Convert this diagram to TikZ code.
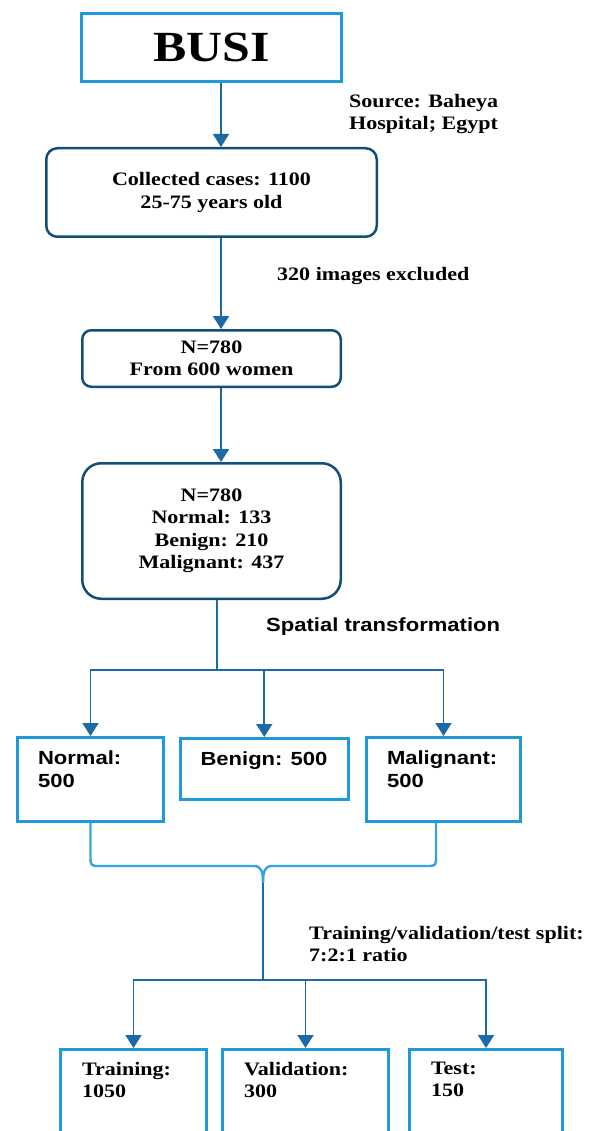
\documentclass[tikz,border=0pt]{standalone}
\usepackage{fontspec}
\setmainfont{Liberation Serif}[FakeStretch=1.16]
\setsansfont{Liberation Sans}[FakeStretch=1.16]
\usetikzlibrary{arrows.meta}
\definecolor{busiblue}{HTML}{1E9AD6}
\definecolor{stageblue}{HTML}{124E78}
\definecolor{arrowblue}{HTML}{1B6AA5}
\definecolor{braceblue}{HTML}{38A3DC}
\newcommand{\toptxt}[3]{\parbox[t][#2][t]{#1}{#3}}
\tikzset{
  txt/.style={font=\bfseries\fontsize{19}{22.5}\selectfont, text=black},
  stage/.style={txt, draw=stageblue, line width=2.5pt, align=center, inner sep=0pt},
  catbox/.style={txt, font=\sffamily\bfseries\fontsize{19}{22.5}\selectfont,
    draw=busiblue, line width=3pt, inner xsep=20.5pt, inner ysep=13.5pt},
  splitbox/.style={txt, draw=busiblue, line width=3pt, inner xsep=21.5pt, inner ysep=12.5pt},
  lbl/.style={txt, inner sep=0pt, align=left},
  link/.style={draw=arrowblue, line width=1.9pt},
  flow/.style={link, -{Triangle[length=13pt, width=16pt]}},
  brace/.style={draw=braceblue, line width=2.4pt, line join=round},
}

\begin{document}
\begin{tikzpicture}[x=1pt, y=-1pt]
\useasboundingbox (0,0) rectangle (589,1131);
\clip (0,0) rectangle (589,1131);

% Dataset
\node[draw=busiblue, line width=3pt, minimum width=260pt, minimum height=68pt,
  font=\bfseries\fontsize{43}{43}\selectfont] (busi) at (211.5,47.5) {BUSI};
\node[lbl, anchor=north west] (source) at (349,94) {Source: Baheya\\Hospital; Egypt};

% Selection stages
\node[stage, rounded corners=11pt, minimum width=330.5pt, minimum height=88.5pt] (cases)
  at (211.5,192.5) {Collected cases: 1100\\25-75 years old};
\node[lbl, anchor=base west] (excl) at (277,281) {320 images excluded};
\node[stage, rounded corners=9pt, minimum width=258.5pt, minimum height=56.5pt] (women)
  at (211.5,358.5) {N=780\\From 600 women};
\node[stage, rounded corners=19pt, minimum width=258.5pt, minimum height=135.5pt] (classes)
  at (211.5,531) {N=780\\Normal: 133\\Benign: 210\\Malignant: 437};
\node[lbl, font=\sffamily\bfseries\fontsize{19}{22.5}\selectfont, anchor=base west] (spatial)
  at (266,631) {Spatial transformation};

% Augmented classes
\node[catbox] (normal) at (90.5,779.5) {\toptxt{105pt}{57pt}{Normal:\\500}};
\node[catbox] (benign) at (264.25,769) {\toptxt{127.5pt}{34pt}{Benign: 500}};
\node[catbox] (malignant) at (443.5,779.5) {\toptxt{113pt}{57pt}{Malignant:\\500}};

% Split
\node[lbl, anchor=north west] (ratio) at (309,926) {Training/validation/test split:\\7:2:1 ratio};
\node[splitbox] (train) at (133.5,1104.5) {\toptxt{103pt}{85pt}{Training:\\1050}};
\node[splitbox] (valid) at (305.5,1104.5) {\toptxt{123pt}{85pt}{Validation:\\300}};
\node[splitbox] (test) at (486,1104.5) {\toptxt{110pt}{85pt}{Test:\\150}};

% Edges
\draw[flow] ([xshift=9.5pt]busi.south) -- ([xshift=9.5pt]cases.north);
\draw[flow] ([xshift=9.5pt]cases.south) -- ([xshift=9.5pt]women.north);
\draw[flow] ([xshift=9.5pt]women.south) -- ([xshift=9.5pt]classes.north);

\coordinate (fork1) at (217,670);
\draw[link] ([xshift=5.5pt]classes.south) -- (fork1);
\foreach \c in {normal,benign,malignant}
  \draw[flow] (fork1) -| (\c.north);

\coordinate (tip) at (263,883);
\draw[brace] (normal.south) -- (90.5,856) .. controls (90.5,866) .. (100.5,866)
  -- (254,866) .. controls (261,866) and (263,871) .. (tip);
\draw[brace] ([xshift=-7.5pt]malignant.south) -- (436,856) .. controls (436,866) .. (426,866)
  -- (272,866) .. controls (265,866) and (263,871) .. (tip);

\coordinate (fork2) at (263,980);
\draw[link] (tip) -- (fork2);
\foreach \c in {train,valid,test}
  \draw[flow] (fork2) -| (\c.north);

\end{tikzpicture}
\end{document}
